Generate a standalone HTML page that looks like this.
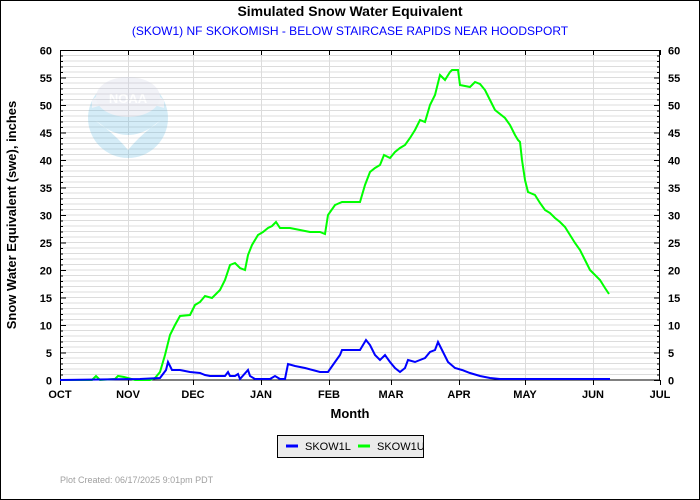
<!DOCTYPE html>
<html><head><meta charset="utf-8"><style>
html,body{margin:0;padding:0;background:#fff}
svg{display:block}
text{font-family:"Liberation Sans",Arial,sans-serif}
</style></head><body>
<svg width="700" height="500" viewBox="0 0 700 500" xmlns="http://www.w3.org/2000/svg">
<rect x="0.5" y="0.5" width="699" height="499" fill="#fff" stroke="#000"/>
<text x="350" y="16" text-anchor="middle" font-size="14" font-weight="bold">Simulated Snow Water Equivalent</text>
<text x="350" y="35" text-anchor="middle" font-size="12" fill="#0000ff">(SKOW1) NF SKOKOMISH - BELOW STAIRCASE RAPIDS NEAR HOODSPORT</text>
<g id="grid" stroke="#dcdcdc" stroke-width="1"></g>
<g opacity="0.25">
<circle cx="128" cy="118" r="40" fill="#59b8e0"/>
<path d="M92 100 Q128 70 164 100 L164 108 Q128 95 92 108Z" fill="#cfd7e8"/>
<ellipse cx="128" cy="97" rx="32" ry="20" fill="#c8cce0"/>
<text x="128" y="103" text-anchor="middle" font-size="13" font-weight="bold" fill="#fff">NOAA</text>
<path d="M95 120 Q128 150 161 120 Q140 135 128 150 Q116 135 95 120Z" fill="#fff"/>
</g>
<rect x="60.5" y="50.5" width="599" height="329.5" fill="none" stroke="#000"/>
<g id="ticks" stroke="#000"></g>
<g id="lbl" font-size="11" font-weight="bold"></g>
<text x="350" y="418" text-anchor="middle" font-size="13" font-weight="bold">Month</text>
<text transform="translate(16,215) rotate(-90)" text-anchor="middle" font-size="13" font-weight="bold">Snow Water Equivalent (swe),  inches</text>
<polyline fill="none" stroke="#00ff00" stroke-width="2" points="60,380 92,380 96,376 100,380 115,379 118,376 124,377 135,380 150,380 155,378 160,372 165,355 170,335 175,325 180,316 190,315 195,305 200,302 205,296 212,298 220,290 225,280 230,265 235,263 240,268 245,270 248,255 252,245 258,235 263,232 268,228 272,226 276,222 280,228 290,228 300,230 310,232 320,232 325,234 328,215 335,205 342,202 345,202 360,202 365,185 370,172 375,168 380,165 384,155 390,158 395,152 400,148 405,145 410,138 415,130 420,120 425,122 430,105 435,95 440,75 445,80 450,72 452,70 458,70 460,85 470,87 475,82 480,84 485,90 490,100 495,110 505,118 510,125 515,135 518,140 520,142 522,160 525,180 528,192 535,195 540,203 545,210 550,213 555,218 560,222 565,227 570,235 575,243 580,250 585,260 590,270 595,275 600,280 605,288 609,294"/>
<polyline fill="none" stroke="#0000ff" stroke-width="2" points="60,380 140,379 160,378 166,370 168,362 172,370 180,370 190,372 200,373 205,375 210,376 225,376 228,372 230,376 235,376 238,374 240,379 248,370 250,376 255,379 270,379 275,376 280,379 285,379 288,364 295,366 305,368 320,372 328,372 335,362 340,355 342,350 360,350 363,345 366,340 370,345 375,355 380,360 385,355 390,362 395,368 400,372 405,368 408,360 415,362 420,360 425,358 430,352 435,350 438,342 442,350 448,362 455,368 462,370 470,373 480,376 490,378 500,379 610,379"/>
<rect x="277.5" y="435.5" width="146" height="22" fill="#ebebeb" stroke="#000"/>
<line x1="286" y1="446" x2="298" y2="446" stroke="#0000ff" stroke-width="3"/>
<text x="305" y="450" font-size="11" font-family="Liberation Mono,monospace">SKOW1L</text>
<line x1="358" y1="446" x2="370" y2="446" stroke="#00ff00" stroke-width="3"/>
<text x="377" y="450" font-size="11" font-family="Liberation Mono,monospace">SKOW1U</text>
<text x="60" y="483" font-size="9" fill="#a0a0a0">Plot Created: 06/17/2025 9:01pm PDT</text>
<script>
var ns="http://www.w3.org/2000/svg",g=document.getElementById("grid"),t=document.getElementById("ticks"),l=document.getElementById("lbl");
function el(p,n,a,tx){var e=document.createElementNS(ns,n);for(var k in a)e.setAttribute(k,a[k]);if(tx!==undefined)e.textContent=String(tx);p.appendChild(e);}
for(var v=1;v<60;v++){var y=380-v*5.5;el(g,"line",{x1:60,x2:660,y1:y,y2:y});}
var mx=[60,128,193,261,329,391,459,525,593,660],mn=["OCT","NOV","DEC","JAN","FEB","MAR","APR","MAY","JUN","JUL"];
for(var i=0;i<10;i++){if(i>0&&i<9)el(g,"line",{x1:mx[i]+.5,x2:mx[i]+.5,y1:50,y2:380});
el(t,"line",{x1:mx[i]+.5,x2:mx[i]+.5,y1:380,y2:385});el(t,"line",{x1:mx[i]+.5,x2:mx[i]+.5,y1:50,y2:55});
el(l,"text",{x:mx[i],y:398,"text-anchor":"middle"},mn[i]);}
for(var v=0;v<=60;v++){var y=380-v*5.5+.5,w=(v%5==0)?6:3;el(t,"line",{x1:60,x2:60+w,y1:y,y2:y});el(t,"line",{x1:660-w,x2:660,y1:y,y2:y});
if(v%5==0){el(l,"text",{x:52,y:y+4,"text-anchor":"end"},v);el(l,"text",{x:668,y:y+4},v);}}
</script>
</svg>
</body></html>
